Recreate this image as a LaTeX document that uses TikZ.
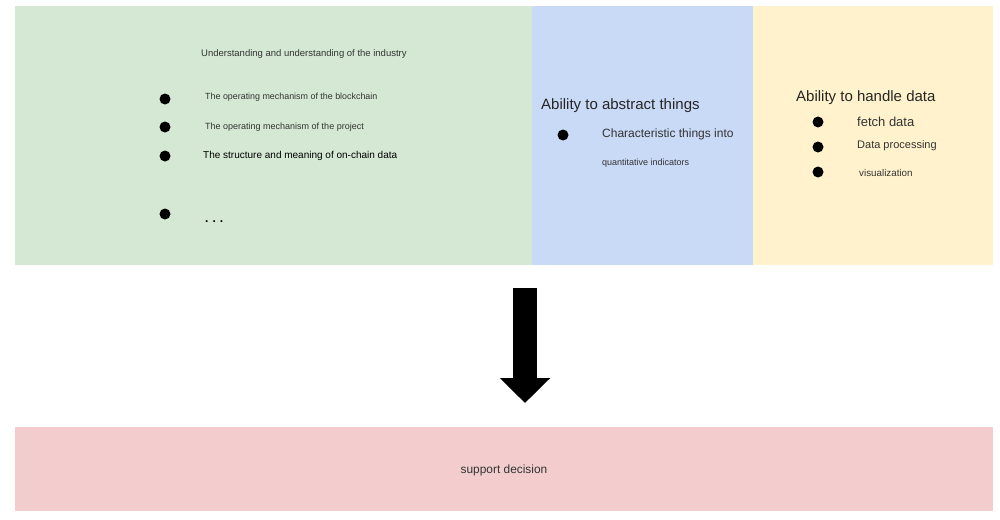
\documentclass[tikz,border=0pt]{standalone}
\usepackage{fontspec}
\setmainfont{Liberation Sans}
\usetikzlibrary{arrows.meta}
\definecolor{pgreen}{HTML}{D5E8D4}
\definecolor{pblue}{HTML}{C9DAF6}
\definecolor{pyellow}{HTML}{FFF2CC}
\definecolor{ppink}{HTML}{F3CDCD}
\definecolor{tgray}{HTML}{333333}
\tikzset{
  panel/.style={draw=none, anchor=north west, inner sep=0pt, outer sep=0pt},
  dot/.style={circle, fill=black, inner sep=0pt, minimum size=11pt},
  txt/.style={anchor=west, inner sep=0pt, text=tgray},
}
\begin{document}
\begin{tikzpicture}[x=1pt,y=-1pt]
\useasboundingbox[fill=white] (0,0) rectangle (1000,519);
% panels
\fill[pgreen] (15,6) rectangle (532,265);
\fill[pblue] (532,6) rectangle (753,265);
\fill[pyellow] (753,6) rectangle (993,265);
\node[panel, fill=ppink, minimum width=978pt, minimum height=84pt] (dec) at (15,427) {};
\node[font=\fontsize{11.9}{13}\selectfont, text=tgray] (dectext) at (504,470) {support decision};
% green panel
\node[txt, font=\fontsize{9.5}{11}\selectfont] (t0) at (201,54) {Understanding and understanding of the industry};
\node[dot] (b1) at (165,99) {};
\node[dot] (b2) at (165,127) {};
\node[dot] (b3) at (165,156) {};
\node[dot] (b4) at (165,214) {};
\node[txt, font=\fontsize{8.9}{10}\selectfont] (t1) at (205,97) {The operating mechanism of the blockchain};
\node[txt, font=\fontsize{9}{10}\selectfont] (t2) at (205,127) {The operating mechanism of the project};
\node[txt, font=\fontsize{10}{11}\selectfont, text=black] (t3) at (203,156) {The structure and meaning of on-chain data};
\node[txt, font=\bfseries\fontsize{12}{12}\selectfont, text=black] (t4) at (205,222) {.\hspace{4pt}.\hspace{4pt}.};
% blue panel
\node[txt, font=\fontsize{15}{16}\selectfont, text=black!85] (a0) at (541,106) {Ability to abstract things};
\node[dot] (c1) at (563,135) {};
\node[txt, font=\fontsize{12}{13}\selectfont] (a1) at (602,134) {Characteristic things into};
\node[txt, font=\fontsize{9}{10}\selectfont] (a2) at (602,163) {quantitative indicators};
% yellow panel
\node[txt, font=\fontsize{15}{16}\selectfont, text=black!85] (h0) at (796,98) {Ability to handle data};
\node[dot] (d1) at (818,122) {};
\node[dot] (d2) at (818,147) {};
\node[dot] (d3) at (818,172) {};
\node[txt, font=\fontsize{13}{14}\selectfont] (h1) at (857,122) {fetch data};
\node[txt, font=\fontsize{11}{12}\selectfont] (h2) at (857,146) {Data processing};
\node[txt, font=\fontsize{9.8}{11}\selectfont] (h3) at (859,173) {visualization};
% arrow
\coordinate (as) at (525,288);
\coordinate (ae) at (525,403);
\draw[line width=24pt, -{Triangle[width=49pt,length=25pt]}] (as) -- (ae);
\end{tikzpicture}
\end{document}
